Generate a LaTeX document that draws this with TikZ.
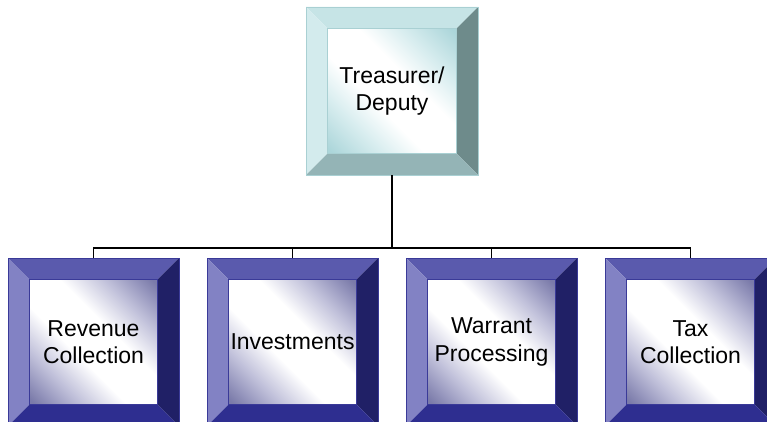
\documentclass[tikz,border=0pt]{standalone}
\usepackage{fontspec}
\setmainfont{Liberation Sans}
\usetikzlibrary{backgrounds,calc}
\definecolor{ptop}{HTML}{5A5AAD}
\definecolor{pleft}{HTML}{8282C4}
\definecolor{pright}{HTML}{202066}
\definecolor{pbot}{HTML}{2E2E90}
\definecolor{pline}{HTML}{3A3A98}
\definecolor{ctop}{HTML}{C6E4E6}
\definecolor{cleft}{HTML}{D3EBED}
\definecolor{cright}{HTML}{6E8B8B}
\definecolor{cbot}{HTML}{94B4B6}
\definecolor{cline}{HTML}{A9D0D3}
\definecolor{pfdark}{RGB}{122,122,170}
\definecolor{pfmid}{RGB}{196,196,220}
\definecolor{cfdark}{RGB}{172,214,218}
\definecolor{cfmid}{RGB}{216,237,239}
\pgfdeclareverticalshading{pfaceshade}{100bp}{%
  color(0bp)=(pfdark); color(16bp)=(pfdark); color(30bp)=(pfmid);
  color(42bp)=(white); color(58bp)=(white);
  color(70bp)=(pfmid); color(84bp)=(pfdark); color(100bp)=(pfdark)}
\pgfdeclareverticalshading{cfaceshade}{100bp}{%
  color(0bp)=(cfdark); color(16bp)=(cfdark); color(30bp)=(cfmid);
  color(42bp)=(white); color(58bp)=(white);
  color(70bp)=(cfmid); color(84bp)=(cfdark); color(100bp)=(cfdark)}
\newlength\bw
\setlength\bw{21.5pt}
\newcommand\bevelbox[7]{%
  \begin{scope}[on background layer]
  \fill[#2] (#1.north west) -- (#1.north east) -- ([xshift=-\bw,yshift=-\bw]#1.north east) -- ([xshift=\bw,yshift=-\bw]#1.north west) -- cycle;
  \fill[#3] (#1.north west) -- ([xshift=\bw,yshift=-\bw]#1.north west) -- ([xshift=\bw,yshift=\bw]#1.south west) -- (#1.south west) -- cycle;
  \fill[#4] (#1.north east) -- (#1.south east) -- ([xshift=-\bw,yshift=\bw]#1.south east) -- ([xshift=-\bw,yshift=-\bw]#1.north east) -- cycle;
  \fill[#5] (#1.south west) -- ([xshift=\bw,yshift=\bw]#1.south west) -- ([xshift=-\bw,yshift=\bw]#1.south east) -- (#1.south east) -- cycle;
  \shade[shading=#6, shading angle=-45] ([xshift=\bw,yshift=-\bw]#1.north west) rectangle ([xshift=-\bw,yshift=\bw]#1.south east);
  \draw[#7, line width=0.6pt] (#1.north west) rectangle (#1.south east);
  \draw[#7, line width=0.5pt] ([xshift=\bw,yshift=-\bw]#1.north west) rectangle ([xshift=-\bw,yshift=\bw]#1.south east);
  \end{scope}}
\tikzset{
  boxtext/.style={inner sep=0pt, outer sep=0pt, align=center, font=\fontsize{23}{27.6}\selectfont, text=black},
  topbox/.style={boxtext, minimum width=172pt, minimum height=168pt},
  childbox/.style={boxtext, minimum width=171pt, minimum height=168pt},
  conn/.style={line width=1.3pt, black}
}
\begin{document}
\begin{tikzpicture}[x=1pt,y=1pt]
\useasboundingbox (0,0) rectangle (767,-422);
\clip (0,0) rectangle (767,-422);
\node[topbox] (tr) at (392,-91) {Treasurer/\\Deputy};
\node[childbox] (rc) at (93.5,-342) {Revenue\\Collection};
\node[childbox] (inv) at (292.5,-342) {Investments};
\node[childbox] (wp) at (491.5,-342) {Warrant\\Processing};
\node[childbox] (tc) at (690.5,-342) {Tax\\Collection};
\bevelbox{tr}{ctop}{cleft}{cright}{cbot}{cfaceshade}{cline}
\bevelbox{rc}{ptop}{pleft}{pright}{pbot}{pfaceshade}{pline}
\bevelbox{inv}{ptop}{pleft}{pright}{pbot}{pfaceshade}{pline}
\bevelbox{wp}{ptop}{pleft}{pright}{pbot}{pfaceshade}{pline}
\bevelbox{tc}{ptop}{pleft}{pright}{pbot}{pfaceshade}{pline}
\coordinate (j) at (392,-248);
\draw[conn] (tr.south) -- (j);
\draw[conn] (rc.north) |- (j) -| (tc.north);
\draw[conn] (inv.north) -- (inv.north |- j);
\draw[conn] (wp.north) -- (wp.north |- j);
\end{tikzpicture}
\end{document}
